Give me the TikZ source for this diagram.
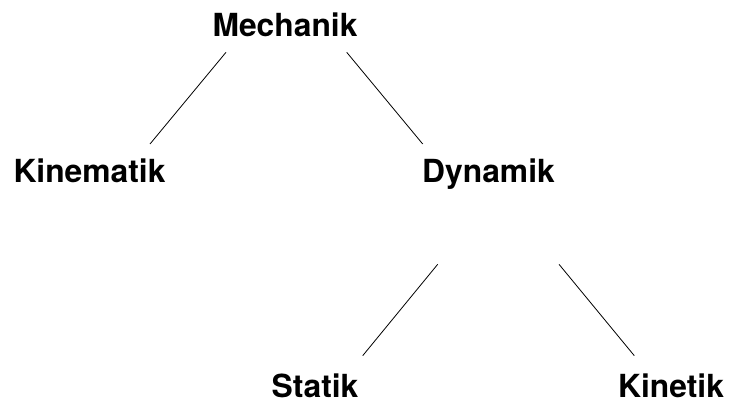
\documentclass[tikz,border=0pt]{standalone}
\usepackage{fontspec}
\setmainfont{TeX Gyre Heros}
\begin{document}
\begin{tikzpicture}[x=1pt,y=1pt,
  term/.style={anchor=base,inner sep=0pt,font=\fontsize{31.8}{38}\selectfont\bfseries},
  branch/.style={line width=0.8pt,black}]
\useasboundingbox (0,0) rectangle (730,406);
% concept nodes, placed on their baselines
\node[term] (mech) at (285,369) {Mechanik};
\node[term] (kine) at (89.5,223) {Kinematik};
\node[term] (dyn)  at (488.5,223) {Dynamik};
\node[term] (stat) at (315,8) {Statik};
\node[term] (kint) at (671,8) {Kinetik};
% free ends of the branches
\coordinate (mech-l) at (226,353.7);
\coordinate (mech-r) at (346.7,353.7);
\coordinate (kine-t) at (150,262);
\coordinate (dyn-t)  at (422.7,262);
\coordinate (dyn-l)  at (437.7,141.7);
\coordinate (dyn-r)  at (559,141.7);
\coordinate (stat-t) at (362.7,50.3);
\coordinate (kint-t) at (634.3,50.3);
% tree branches
\draw[branch] (mech-l) -- (kine-t);
\draw[branch] (mech-r) -- (dyn-t);
\draw[branch] (dyn-l) -- (stat-t);
\draw[branch] (dyn-r) -- (kint-t);
\end{tikzpicture}
\end{document}
